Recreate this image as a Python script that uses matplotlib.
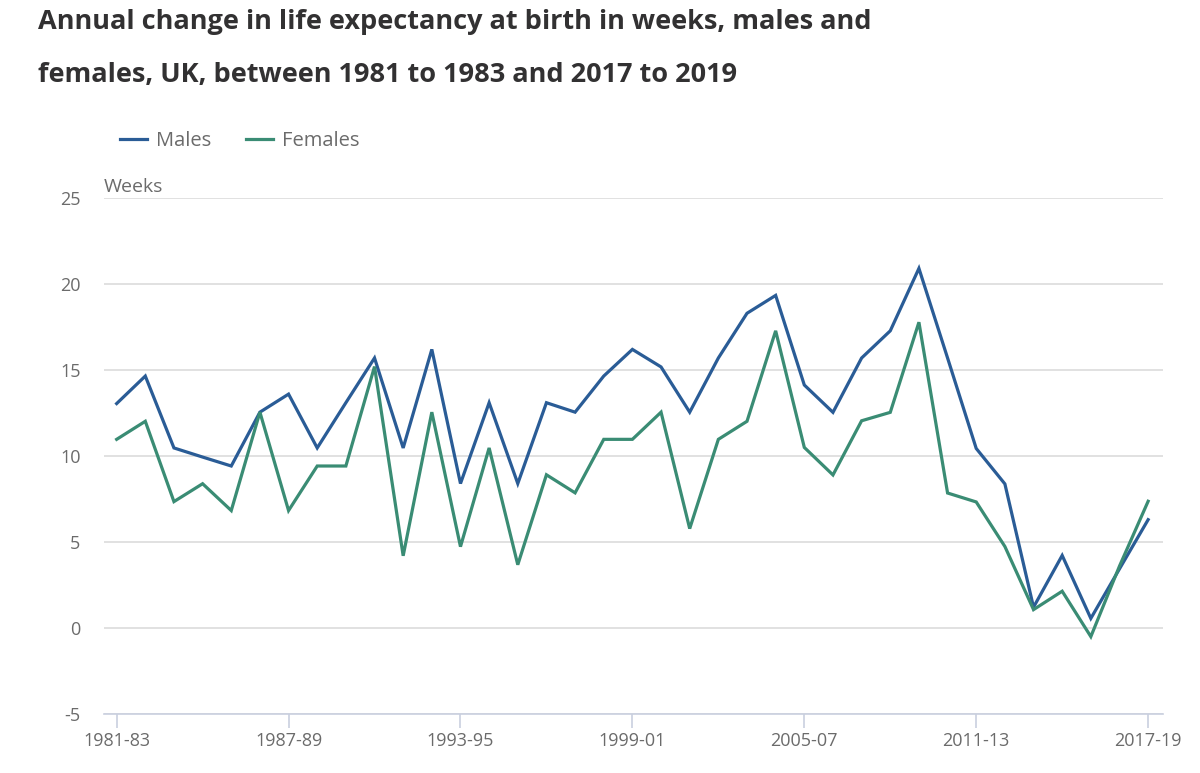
import numpy as np
import matplotlib
matplotlib.use("Agg")
import matplotlib.pyplot as plt

plt.rcParams['font.family'] = ['Open Sans', 'DejaVu Sans']
plt.rcParams['axes.unicode_minus'] = False

periods = [f"{y}-{str(y + 2)[-2:]}" for y in range(1981, 2018)]
tick_labels = ["1981-83", "1987-89", "1993-95", "1999-01", "2005-07", "2011-13", "2017-19"]

males = [13.05, 14.65, 10.47, 9.94, 9.42, 12.55, 13.6, 10.47, 13.1, 15.7,
         10.47, 16.2, 8.4, 13.1, 8.4, 13.1, 12.55, 14.65, 16.2, 15.18,
         12.55, 15.7, 18.3, 19.34, 14.13, 12.54, 15.7, 17.28, 20.91, 15.7,
         10.44, 8.38, 1.21, 4.22, 0.56, 3.44, 6.3]
females = [10.97, 12.02, 7.35, 8.39, 6.83, 12.55, 6.83, 9.42, 9.42, 15.2,
           4.2, 12.55, 4.73, 10.47, 3.68, 8.91, 7.86, 10.97, 10.97, 12.55,
           5.78, 10.97, 12.02, 17.28, 10.5, 8.9, 12.05, 12.54, 17.78, 7.85,
           7.33, 4.74, 1.07, 2.14, -0.5, 3.6, 7.37]

male_col = "#2a5c96"
female_col = "#3a8c74"
text_col = "#6b6b6b"

fig = plt.figure(figsize=(12, 7.73), dpi=100)
ax = fig.add_axes([0.0867, 0.0763, 0.8825, 0.6675])

x = np.arange(len(periods))
ax.plot(x, males, color=male_col, lw=2.3, label="Males", solid_joinstyle="miter")
ax.plot(x, females, color=female_col, lw=2.3, label="Females", solid_joinstyle="miter")

ax.set_xlim(-0.44, 36.52)
ax.set_ylim(-5, 25)
ax.set_yticks(range(-5, 30, 5))
ax.grid(axis="y", color="#dcdcdc", lw=1.2)
ax.set_axisbelow(True)

ticks = [periods.index(t) for t in tick_labels]
ax.set_xticks(ticks)
ax.set_xticklabels(tick_labels)

for side in ["top", "right", "left"]:
    ax.spines[side].set_visible(False)
ax.spines["bottom"].set_color("#c9cfdf")
ax.spines["bottom"].set_linewidth(1.2)
ax.tick_params(axis="x", length=10, color="#c9cfdf", width=1.2, labelsize=13, labelcolor=text_col, pad=3)
ax.tick_params(axis="y", length=0, labelsize=13, labelcolor=text_col, pad=17)

ax.text(0, 1.003, "Weeks", transform=ax.transAxes, fontsize=14, color=text_col, va="bottom", ha="left")

fig.text(38 / 1200, 1 - 22 / 773, "Annual change in life expectancy at birth in weeks, males and",
         fontsize=19.5, fontweight="bold", color="#323132", va="center", ha="left")
fig.text(38 / 1200, 1 - 75 / 773, "females, UK, between 1981 to 1983 and 2017 to 2019",
         fontsize=19.5, fontweight="bold", color="#323132", va="center", ha="left")

fig.legend(loc="center left", bbox_to_anchor=(120 / 1200, 1 - 141 / 773), ncol=2, frameon=False,
           fontsize=14.5, handlelength=1.35, handletextpad=0.45, columnspacing=1.7,
           borderpad=0, borderaxespad=0, labelcolor=text_col)

fig.savefig("out.png", dpi=100)
